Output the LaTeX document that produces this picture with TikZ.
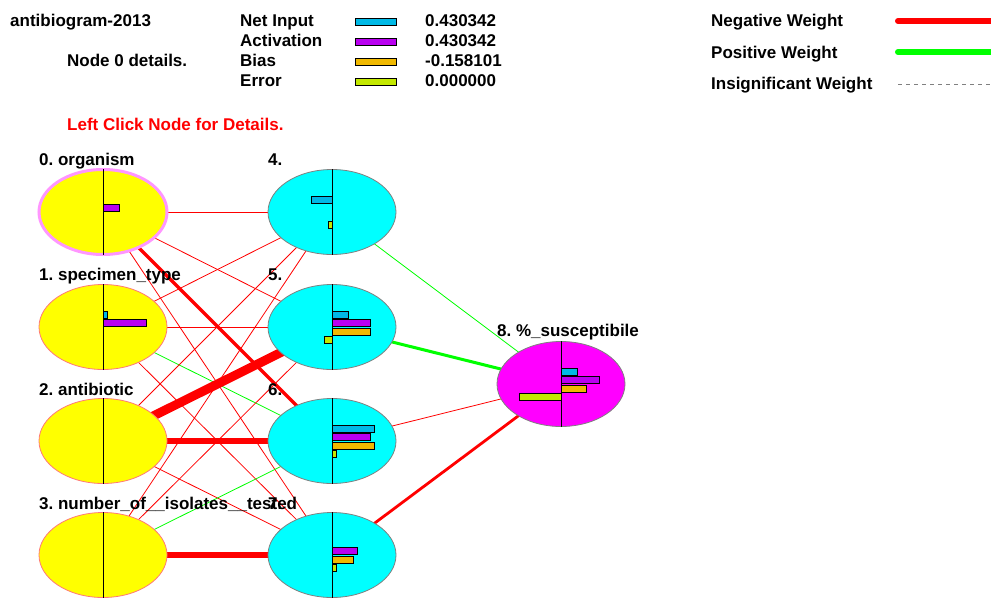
\documentclass[tikz,border=0pt]{standalone}
\usepackage{fontspec}
\setmainfont{Liberation Sans}
\usetikzlibrary{shapes.geometric,backgrounds}
\frenchspacing
\definecolor{negw}{RGB}{255,0,0}
\definecolor{posw}{RGB}{0,255,0}
\definecolor{netc}{RGB}{0,185,230}
\definecolor{actc}{RGB}{185,0,240}
\definecolor{biasc}{RGB}{240,185,0}
\definecolor{errc}{RGB}{195,232,0}
\definecolor{selc}{RGB}{255,150,255}
\definecolor{rimc}{RGB}{255,120,120}
\definecolor{inpc}{RGB}{255,255,0}
\definecolor{hidc}{RGB}{0,255,255}
\definecolor{outc}{RGB}{255,0,255}
\begin{document}
\begin{tikzpicture}[x=1pt,y=-1pt,
    txt/.style={font=\fontsize{17}{19}\selectfont\bfseries\frenchspacing,inner sep=0pt,anchor=base west},
    neuron/.style={ellipse,minimum width=128pt,minimum height=85pt,inner sep=0pt},
    inp/.style={neuron,fill=inpc,draw=rimc,line width=0.8pt},
    hid/.style={neuron,fill=hidc,draw=gray,line width=0.8pt},
    outp/.style={neuron,fill=outc,draw=gray,line width=0.8pt},
    swatch/.style={draw=black,line width=1pt}]
    \useasboundingbox (0,0) rectangle (991,598);
    % header
    \node[txt] (title) at (10,26.5) {antibiogram-2013};
    \node[txt] (detail) at (67,66.7) {Node 0 details.};
    \node[txt,text=red] (hint) at (67,130) {Left Click Node for Details.};
    \foreach \y/\name/\col/\val [count=\i] in {26.5/Net Input/netc/0.430342,46.5/Activation/actc/0.430342,
        66.7/Bias/biasc/-0.158101,86.7/Error/errc/0.000000}
    {
        \node[txt] (key\i) at (240,\y) {\name};
        \draw[swatch,fill=\col] (355,\y-8.5) rectangle (396,\y-1.5);
        \node[txt] (val\i) at (425,\y) {\val};
    }
    % legend
    \node[txt] (negl) at (711,26.5) {Negative Weight};
    \node[txt] (posl) at (711,58) {Positive Weight};
    \node[txt] (insl) at (711,89.5) {Insignificant Weight};
    \draw[negw,line width=6pt,line cap=round] (898,21) -- (996,21);
    \draw[posw,line width=6pt,line cap=round] (898,52) -- (996,52);
    \draw[gray,line width=0.8pt,dash pattern=on 4pt off 4pt] (898,84) -- (991,84);
    % neurons
    \foreach \n/\kind/\x/\y in {0/inp/103/212,1/inp/103/327,2/inp/103/441,3/inp/103/555,
        4/hid/332/212,5/hid/332/327,6/hid/332/441,7/hid/332/555,8/outp/561/384}
    {
        \node[\kind] (n\n) at (\x,\y) {};
        \draw[line width=1pt] (n\n.north) -- (n\n.south);
    }
    \draw[selc,line width=3pt] (n0) ellipse (64pt and 42.5pt);
    \draw[line width=1pt] (n0.north) -- (n0.south);
    \node[txt] (l0) at (39,165) {0. organism};
    \node[txt] (l1) at (39,280) {1. specimen\_type};
    \node[txt] (l2) at (39,395) {2. antibiotic};
    \node[txt] (l3) at (39,509) {3. number\_of\_\_isolates\_\_tested};
    \node[txt] (l4) at (268,165) {4.};
    \node[txt] (l5) at (268,280) {5.};
    \node[txt] (l6) at (268,395) {6.};
    \node[txt] (l7) at (268,509) {7.};
    \node[txt] (l8) at (497,336.5) {8. \%\_susceptibile};
    % bars: node/colour/row/length
    \foreach \nd/\col/\r/\len in {n0/actc/1/16,n1/netc/0/4,n1/actc/1/43,
        n4/netc/0/-21,n4/errc/3/-4,
        n5/netc/0/16,n5/actc/1/38,n5/biasc/2/38,n5/errc/3/-8,
        n6/netc/0/42,n6/actc/1/38,n6/biasc/2/42,n6/errc/3/4,
        n7/actc/1/25,n7/biasc/2/21,n7/errc/3/4,
        n8/netc/0/16,n8/actc/1/38,n8/biasc/2/25,n8/errc/3/-42}
        \draw[swatch,fill=\col,shift={(\nd.center)}] (0,-16+8.5*\r) rectangle (\len,-9+8.5*\r);
    % weights
    \begin{scope}[on background layer]
        \fill[white] (0,0) rectangle (991,598);
        \foreach \a/\b/\col/\w in {n0/n4/negw/0.8,n0/n5/negw/0.8,n0/n6/negw/3.5,n0/n7/negw/0.8,
            n1/n4/negw/0.8,n1/n5/negw/0.8,n1/n6/posw/0.8,n1/n7/negw/0.8,
            n2/n4/negw/0.8,n2/n5/negw/9,n2/n6/negw/6.5,n2/n7/negw/0.8,
            n3/n4/negw/0.8,n3/n5/negw/0.8,n3/n6/posw/0.8,n3/n7/negw/6,
            n4/n8/posw/0.8,n5/n8/posw/3,n6/n8/negw/0.8,n7/n8/negw/2.8}
            \draw[\col,line width=\w pt] (\a.center) -- (\b.center);
    \end{scope}
\end{tikzpicture}
\end{document}
